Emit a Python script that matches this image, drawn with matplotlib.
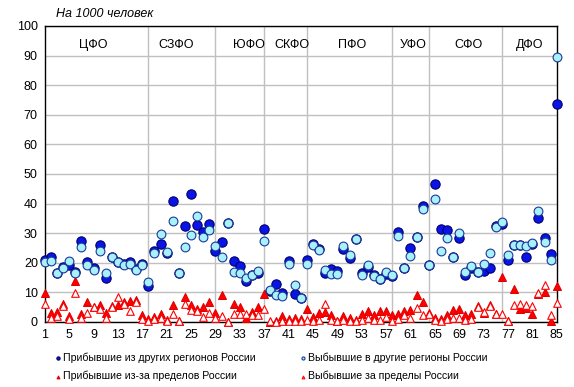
import numpy as np
import matplotlib
matplotlib.use("Agg")
import matplotlib.pyplot as plt

plt.rcParams['font.family'] = ['Liberation Sans', 'DejaVu Sans']

# региональный порядковый номер 1..85
regions = np.arange(1, 86)

# Прибывшие из других регионов России
arr_reg = [20.9, 22.0, 16.7, 18.6, 19.3, 17.0, 27.2, 20.1, 18.2, 26.0,
           15.0, 22.0, 20.4, 19.6, 20.2, 18.0, 19.5, 12.1,
           24.0, 26.5, 23.4, 40.8, 16.7, 32.3, 43.3, 32.9, 30.5, 33.0, 23.9,
           26.9, 33.3, 20.5, 18.8, 13.7, 15.9, 16.7, 31.4,
           10.3, 12.8, 9.9, 20.6, 9.4, 8.0, 20.9,
           26.3, 24.6, 16.7, 17.8, 17.2, 24.8, 21.7, 28.0, 16.6, 18.6, 15.8, 14.6, 16.2, 15.5,
           30.3, 18.3, 25.0, 28.8, 39.3, 19.3,
           46.7, 31.4, 31.1, 22.0, 28.2, 16.0, 18.4, 16.8, 17.3, 18.2, 32.5, 33.2,
           20.9, 26.0, 26.0, 22.1, 26.5, 35.0, 28.2, 23.0, 73.5]

# Выбывшие в другие регионы России
dep_reg = [20.1, 20.7, 16.7, 18.4, 20.7, 16.4, 25.4, 19.4, 17.6, 24.1,
           16.5, 21.8, 20.3, 19.4, 19.7, 17.4, 19.1, 13.6,
           23.4, 29.7, 23.5, 34.2, 16.7, 25.4, 29.5, 35.9, 28.7, 31.2, 25.5,
           22.0, 33.4, 17.0, 16.5, 15.0, 15.9, 17.3, 27.5,
           10.7, 9.2, 8.8, 19.6, 12.4, 8.1, 19.5,
           26.0, 24.4, 17.4, 16.2, 16.2, 25.5, 22.6, 28.0, 16.0, 19.1, 15.6, 14.5, 17.0, 16.0,
           29.2, 18.2, 22.4, 28.8, 38.0, 19.2,
           41.6, 24.1, 28.4, 22.0, 29.9, 17.0, 19.0, 17.0, 19.5, 23.3, 32.0, 33.7,
           22.6, 26.0, 26.1, 25.8, 26.7, 37.6, 26.9, 21.0, 89.5]

# Прибывшие из-за пределов России
arr_abr = [9.7, 3.2, 3.4, 6.2, 2.0, 13.7, 2.6, 6.9, 5.1, 5.6,
           3.2, 5.4, 5.8, 6.8, 7.1, 7.3, 2.3, 0.9,
           1.7, 2.6, 0.7, 5.9, 0.5, 8.4, 5.7, 4.3, 4.9, 6.7, 3.2,
           9.2, 0.0, 6.0, 5.1, 1.5, 3.4, 4.9, 9.4,
           0.1, 0.3, 2.0, 1.1, 1.3, 0.9, 4.3,
           1.7, 2.9, 3.5, 2.3, 0.5, 2.0, 1.5, 0.8, 2.8, 3.8, 2.5, 3.8, 3.6, 2.4,
           2.6, 3.8, 4.0, 9.0, 6.9, 3.2,
           1.5, 1.1, 2.3, 4.0, 4.3, 2.4, 2.6, 5.4, 3.2, 5.6, 2.8, 15.2,
           0.3, 11.1, 4.3, 4.8, 2.8, 9.4, 10.1, 0.3, 12.3]

# Выбывшие за пределы России
dep_abr = [6.2, 1.5, 2.0, 5.4, 0.9, 9.9, 1.5, 3.2, 4.9, 4.5,
           1.5, 5.1, 8.5, 6.2, 3.7, 6.6, 0.9, 0.5,
           1.0, 1.5, 0.3, 2.6, 0.3, 6.2, 4.0, 3.8, 1.8, 3.0, 1.5,
           2.0, 0.0, 2.8, 2.8, 2.6, 2.4, 2.2, 4.3,
           0.3, 0.1, 0.5, 0.4, 0.5, 0.3, 0.8,
           0.5, 0.6, 6.2, 0.8, 0.3, 0.6, 0.5, 0.3, 0.8, 1.5, 0.6, 0.7, 1.8, 0.5,
           1.0, 2.4, 1.5, 4.6, 2.5, 2.6,
           0.6, 0.5, 0.9, 1.2, 1.5, 0.8, 1.0, 4.9, 3.4, 5.4, 2.8, 2.8,
           0.2, 5.9, 6.0, 5.6, 5.4, 9.8, 12.4, 2.3, 6.4]

# федеральные округа: подписи и границы
districts = ['ЦФО', 'СЗФО', 'ЮФО', 'СКФО', 'ПФО', 'УФО', 'СФО', 'ДФО']
district_pos = [9, 22.5, 34.5, 41.5, 51.5, 61.5, 70.5, 80.5]
borders = [18, 29, 37, 44, 58, 64, 76]
xticks = list(range(1, 86, 4))

fig = plt.figure(figsize=(5.74, 3.87), dpi=100)
ax = fig.add_axes([0.078, 0.168, 0.892, 0.765])

ax.set_xlim(1, 85)
ax.set_ylim(0, 100)
ax.set_yticks(range(0, 101, 10))
ax.set_xticks(xticks)
ax.grid(axis='y', color='#c0c0c0', linewidth=1)
for b in borders:
    ax.axvline(b, color='#c0c0c0', linewidth=1, zorder=0)
ax.set_axisbelow(True)
for s in ax.spines.values():
    s.set_color('black')
    s.set_linewidth(1)
ax.tick_params(length=0, labelsize=9, pad=5)

h1 = ax.scatter(regions, arr_reg, s=45, marker='o', facecolor='#0a14e6',
                edgecolor='#000070', linewidth=0.8, clip_on=False, zorder=3)
h2 = ax.scatter(regions, dep_reg, s=40, marker='o', facecolor='#a8f0fa',
                edgecolor='#1a3a9a', linewidth=0.8, clip_on=False, zorder=4)
h3 = ax.scatter(regions, arr_abr, s=32, marker='^', facecolor='#ff0000',
                edgecolor='#e00000', linewidth=0.8, clip_on=False, zorder=3)
h4 = ax.scatter(regions, dep_abr, s=30, marker='^', facecolor='white',
                edgecolor='#ff0000', linewidth=0.8, clip_on=False, zorder=4)

for name, x in zip(districts, district_pos):
    ax.text(x, 93.5, name, ha='center', va='center', fontsize=9)

fig.text(0.097, 0.963, 'На 1000 человек', fontsize=9, style='italic',
         ha='left', va='center')

leg = fig.legend([h1, h3, h2, h4],
                 ['Прибывшие из других регионов России',
                  'Прибывшие из-за пределов России',
                  'Выбывшие в другие регионы России',
                  'Выбывшие за пределы России'],
                 ncol=2, loc='lower left', bbox_to_anchor=(0.08, -0.01),
                 frameon=False, fontsize=7.6, markerscale=0.35,
                 handlelength=0.4, handletextpad=0.3, columnspacing=4.3,
                 labelspacing=0.75)

fig.savefig('out.png', dpi=100)
